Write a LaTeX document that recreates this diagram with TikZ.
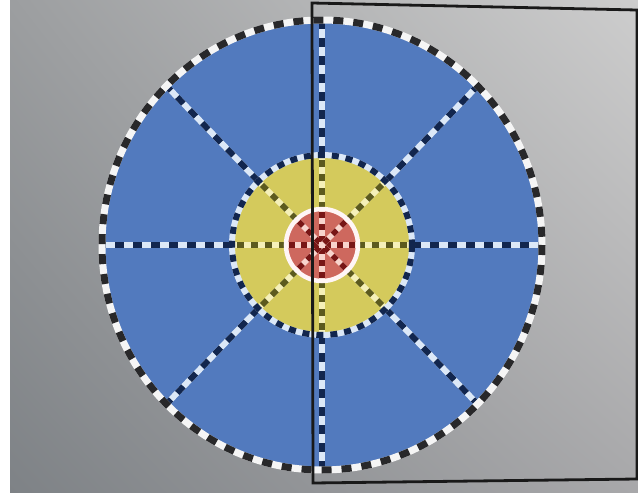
\documentclass[tikz,border=0pt]{standalone}
\usetikzlibrary{calc,shadings}
\definecolor{bgUL}{RGB}{156,158,160}
\definecolor{bgUR}{RGB}{205,205,205}
\definecolor{bgLL}{RGB}{126,130,134}
\definecolor{bgLR}{RGB}{168,168,170}
\definecolor{bluefill}{RGB}{82,122,190}
\definecolor{yellowfill}{RGB}{212,202,92}
\definecolor{redfill}{RGB}{206,104,94}
\definecolor{navy}{RGB}{18,38,78}
\definecolor{paleblue}{RGB}{220,232,247}
\definecolor{olive}{RGB}{92,90,30}
\definecolor{paleyellow}{RGB}{245,240,185}
\definecolor{darkred}{RGB}{120,22,22}
\definecolor{palepink}{RGB}{248,212,205}
\definecolor{darkgrey}{RGB}{40,40,42}
\tikzset{
  outerbase/.style={line width=7pt, white!92!gray},
  outerdash/.style={line width=7pt, darkgrey, dash pattern=on 10pt off 10pt},
  bluebase/.style={line width=6pt, paleblue},
  bluedash/.style={line width=6pt, navy, dash pattern=on 9pt off 9pt},
  ringbase/.style={line width=6pt, paleblue},
  ringdash/.style={line width=6pt, navy, dash pattern=on 7pt off 7pt},
  yelbase/.style={line width=6pt, paleyellow},
  yeldash/.style={line width=6pt, olive, dash pattern=on 7pt off 7pt},
  redbase/.style={line width=5.5pt, palepink},
  reddash/.style={line width=5.5pt, darkred, dash pattern=on 6pt off 6pt, dash phase=9pt},
  redring/.style={line width=4.5pt, white!85!pink},
  frame/.style={line width=2.8pt, black!90}
}
\begin{document}
\begin{tikzpicture}[x=1pt,y=-1pt]
\useasboundingbox (0,0) rectangle (638,493);
\shade[upper left=bgUL, upper right=bgUR, lower left=bgLL, lower right=bgLR] (10,0) rectangle (638,493);
\fill[white] (0,0) rectangle (10,493);
\coordinate (c) at (322,245);
% fills
\fill[bluefill] (c) ellipse [x radius=220, y radius=225];
\fill[yellowfill] (c) circle [radius=90];
\fill[redfill] (c) circle [radius=36];
% blue radials
\foreach \a in {0,45,...,315}{
  \coordinate (bi) at ($(c)+(\a:90)$);
  \coordinate (bo) at ($(c)+({220*cos(\a)},{225*sin(\a)})$);
  \draw[bluebase] (bi) -- (bo);
  \draw[bluedash] (bi) -- (bo);
}
% yellow radials
\foreach \a in {0,45,...,315}{
  \coordinate (yi) at ($(c)+(\a:36)$);
  \coordinate (yo) at ($(c)+(\a:90)$);
  \draw[yelbase] (yi) -- (yo);
  \draw[yeldash] (yi) -- (yo);
}
% red radials
\foreach \a in {0,45,...,315}{
  \coordinate (ro) at ($(c)+(\a:36)$);
  \draw[redbase] (c) -- (ro);
  \draw[reddash] (c) -- (ro);
}
% ring borders
\draw[redring] (c) circle [radius=36];
\draw[ringbase] (c) circle [radius=90];
\draw[ringdash] (c) circle [radius=90];
\draw[outerbase] (c) ellipse [x radius=220, y radius=225];
\draw[outerdash] (c) ellipse [x radius=220, y radius=225];
% frame
\coordinate (f1) at (312,3);
\coordinate (f2) at (637,10);
\coordinate (f3) at (637,479);
\coordinate (f4) at (313,483);
\draw[frame] (f1) -- (f2) -- (f3) -- (f4) -- cycle;
\end{tikzpicture}
\end{document}
